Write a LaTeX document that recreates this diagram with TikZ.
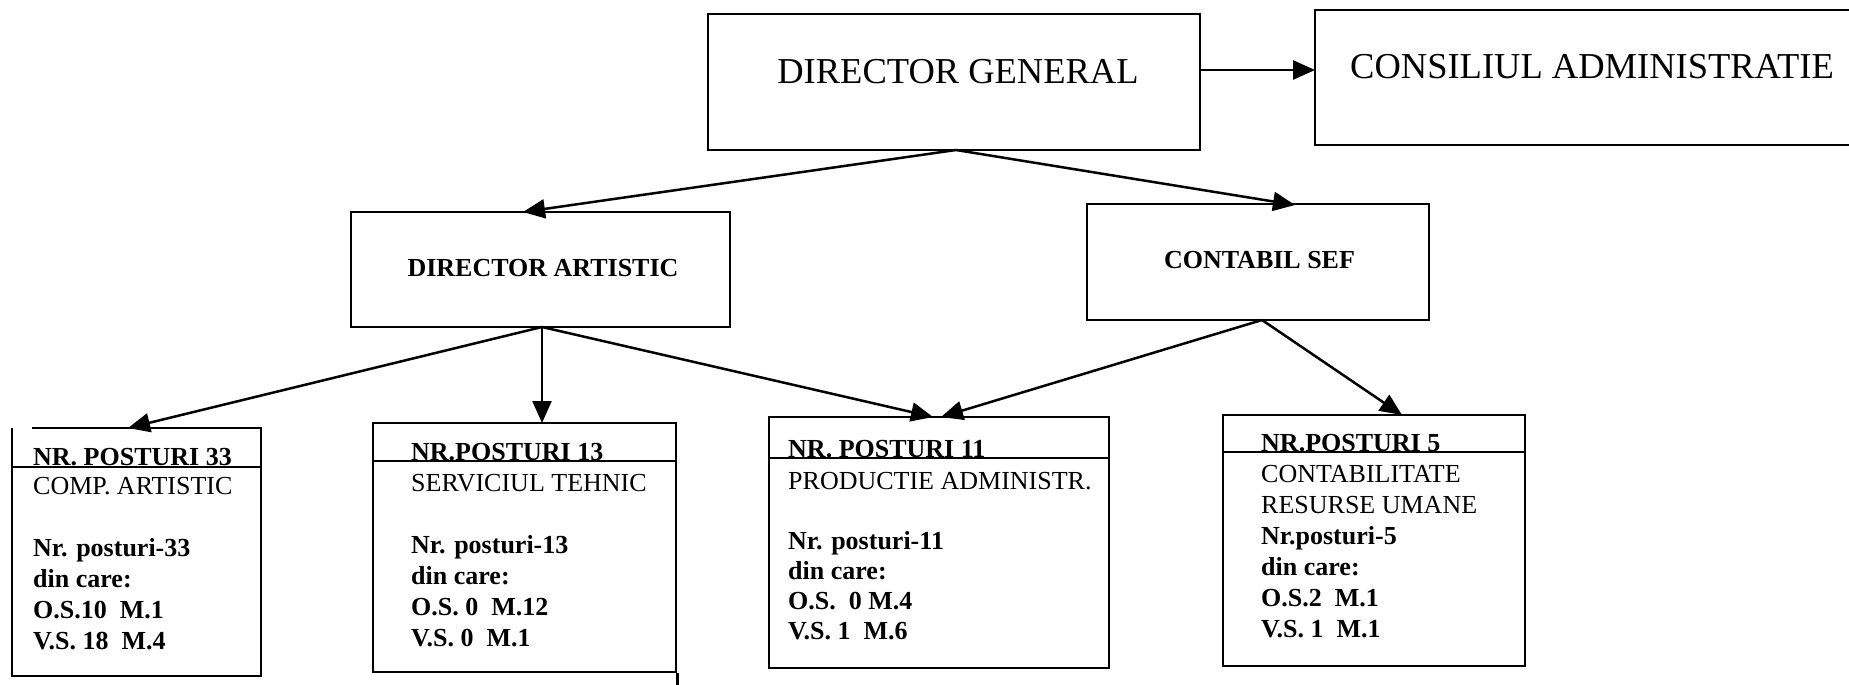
\documentclass[tikz,border=0pt]{standalone}
\usepackage{fontspec}
\setmainfont{Liberation Serif}
\usetikzlibrary{arrows.meta}
\begin{document}
\begin{tikzpicture}[x=1pt,y=-1pt,
  boxst/.style={draw, line width=2.5pt, inner sep=0pt, rectangle},
  openbox/.style={inner sep=0pt, rectangle},
  conn/.style={line width=2.5pt, -{Triangle[length=22pt,width=19pt]}},
  edge/.style={line width=2.5pt},
  big/.style={inner sep=0pt, font=\fontsize{36.5}{40}\selectfont},
  mid/.style={inner sep=0pt, anchor=base, font=\fontsize{26}{30}\selectfont\bfseries},
  ln/.style={inner sep=0pt, anchor=base west, font=\fontsize{26}{30}\selectfont},
  bln/.style={inner sep=0pt, anchor=base west, font=\fontsize{26}{30}\selectfont\bfseries},
]
\path[use as bounding box] (0,0) rectangle (1849,685);
\clip (0,0) rectangle (1849,685);

% top boxes
\node[boxst, minimum width=492pt, minimum height=136pt] (dg) at (954,82) {};
\node[boxst, minimum width=555pt, minimum height=135pt] (ca) at (1592.5,77.5) {};
\node[boxst, minimum width=379pt, minimum height=115pt] (da) at (540.5,269.5) {};
\node[boxst, minimum width=342pt, minimum height=116pt] (cs) at (1258,262) {};

\node[big, anchor=base] (dgt) at (958,83) {DIRECTOR GENERAL};
\node[big, anchor=base west] (cat) at (1350,78) {CONSILIUL ADMINISTRATIE};
\node[mid] (dat) at (543,276) {DIRECTOR ARTISTIC};
\node[mid] (cst) at (1259.5,268) {CONTABIL SEF};

% bottom boxes
\node[openbox, minimum width=249pt, minimum height=248pt] (b1) at (136.5,552) {};
\node[boxst, minimum width=303pt, minimum height=249pt] (b2) at (524.5,547.5) {};
\node[boxst, minimum width=340pt, minimum height=251pt] (b3) at (939,542.5) {};
\node[boxst, minimum width=302pt, minimum height=251pt] (b4) at (1374,540.5) {};

\draw[edge] ([xshift=20pt]b1.north west) -- (b1.north east) -- (b1.south east) -- (b1.south west) -- (b1.north west);
\draw[edge] (b2.south east) -- ++(0,15);

% separators
\draw[edge] ([yshift=-39pt]b1.north west) -- ([yshift=-39pt]b1.north east);
\draw[edge] ([yshift=-39pt]b2.north west) -- ([yshift=-39pt]b2.north east);
\draw[edge] ([yshift=-42pt]b3.north west) -- ([yshift=-42pt]b3.north east);
\draw[edge] ([yshift=-38pt]b4.north west) -- ([yshift=-38pt]b4.north east);

% box 1 text
\node[bln] (b1h) at (33,465) {NR. POSTURI 33};
\node[ln]  (b1a) at (33,494) {COMP. ARTISTIC};
\node[bln] (b1b) at (33,556) {Nr. posturi-33};
\node[bln] (b1c) at (33,587) {din care:};
\node[bln] (b1d) at (33,618) {O.S.10\ \ M.1};
\node[bln] (b1e) at (33,649) {V.S. 18\ \ M.4};

% box 2 text
\node[bln] (b2h) at (411,460) {NR.POSTURI 13};
\node[ln]  (b2a) at (411,491) {SERVICIUL TEHNIC};
\node[bln] (b2b) at (411,553) {Nr. posturi-13};
\node[bln] (b2c) at (411,584) {din care:};
\node[bln] (b2d) at (411,615) {O.S. 0\ \ M.12};
\node[bln] (b2e) at (411,646) {V.S. 0\ \ M.1};

% box 3 text
\node[bln] (b3h) at (788,457) {NR. POSTURI 11};
\node[ln]  (b3a) at (788,489) {PRODUCTIE ADMINISTR.};
\node[bln] (b3b) at (788,549) {Nr. posturi-11};
\node[bln] (b3c) at (788,579) {din care:};
\node[bln] (b3d) at (788,609) {O.S.\ \ 0 M.4};
\node[bln] (b3e) at (788,639) {V.S. 1\ \ M.6};

% box 4 text
\node[bln] (b4h) at (1261,451) {NR.POSTURI 5};
\node[ln]  (b4a) at (1261,482) {CONTABILITATE};
\node[ln]  (b4b) at (1261,513) {RESURSE UMANE};
\node[bln] (b4c) at (1261,544) {Nr.posturi-5};
\node[bln] (b4d) at (1261,575) {din care:};
\node[bln] (b4e) at (1261,606) {O.S.2\ \ M.1};
\node[bln] (b4f) at (1261,637) {V.S. 1\ \ M.1};

% connector end points
\coordinate (dgS) at (956,150);
\coordinate (dgE) at (1200,70);
\coordinate (caIn) at (1315,70);
\coordinate (daIn) at (523,212);
\coordinate (csIn) at (1295,205);
\coordinate (daS) at (542,327);
\coordinate (csS) at (1262,320);
\coordinate (b1In) at (128,428);
\coordinate (b2In) at (542,423);
\coordinate (b3InA) at (933,417);
\coordinate (b3InB) at (941,417);
\coordinate (b4In) at (1402,415);

\draw[conn] (dgE) -- (caIn);
\draw[conn] (dgS) -- (daIn);
\draw[conn] (dgS) -- (csIn);
\draw[conn] (daS) -- (b1In);
\draw[conn] (daS) -- (b2In);
\draw[conn] (daS) -- (b3InA);
\draw[conn] (csS) -- (b3InB);
\draw[conn] (csS) -- (b4In);
\end{tikzpicture}
\end{document}
